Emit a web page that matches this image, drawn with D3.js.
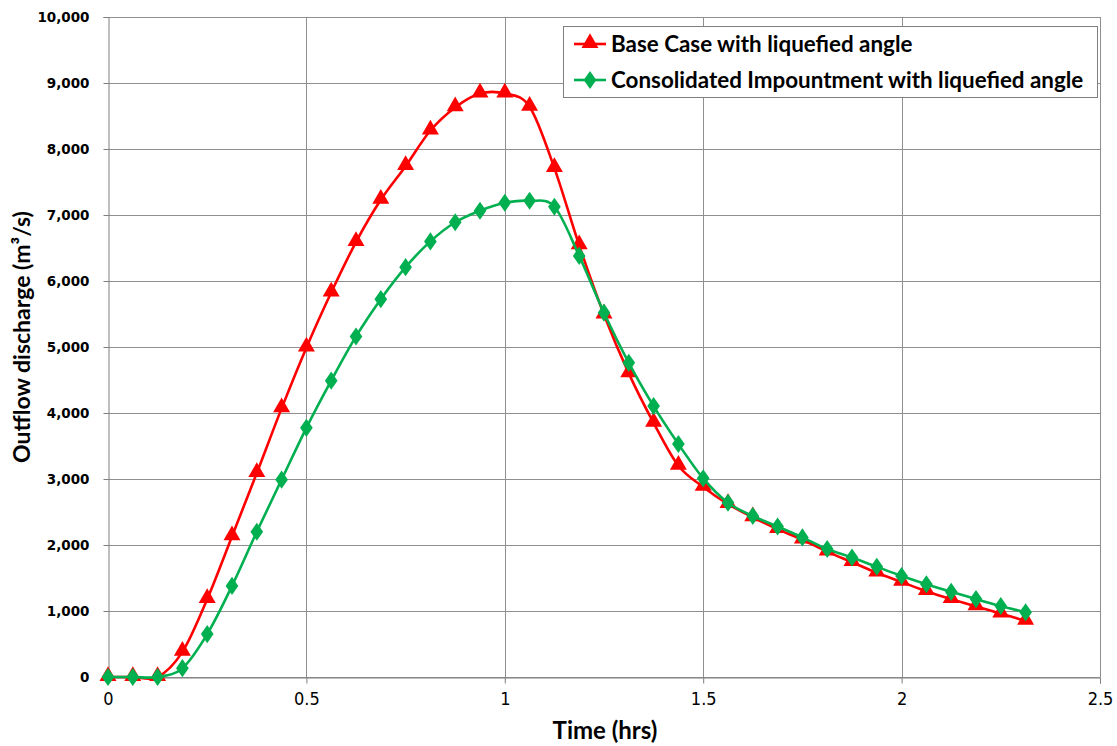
<!DOCTYPE html>
<html>
<head>
<meta charset="utf-8">
<script src="https://cdn.jsdelivr.net/npm/d3@7"></script>
<style>
body { margin: 0; background: #fff; }
</style>
</head>
<body>
<div id="chart"></div>
<script>
// time in hours
var times = [0, 0.0625, 0.125, 0.1875, 0.25, 0.3125, 0.375, 0.4375, 0.5, 0.5625,
    0.625, 0.6875, 0.75, 0.8125, 0.875, 0.9375, 1, 1.0625, 1.125, 1.1875,
    1.25, 1.3125, 1.375, 1.4375, 1.5, 1.5625, 1.625, 1.6875, 1.75, 1.8125,
    1.875, 1.9375, 2, 2.0625, 2.125, 2.1875, 2.25, 2.3125];

var baseCase = [0, 0, 0, 380, 1180, 2130, 3090, 4070, 4990, 5825,
    6590, 7230, 7740, 8280, 8630, 8840, 8840, 8640, 7710, 6540,
    5490, 4600, 3850, 3200, 2880, 2620, 2420, 2240, 2080, 1900,
    1740, 1580, 1440, 1300, 1180, 1070, 960, 850];

var consolidated = [0, 0, 0, 134, 650, 1380, 2200, 2990, 3775, 4490,
    5160, 5725, 6210, 6600, 6890, 7065, 7185, 7215, 7125, 6380,
    5520, 4760, 4105, 3530, 3010, 2640, 2440, 2280, 2115, 1940,
    1810, 1670, 1530, 1405, 1290, 1180, 1075, 980];

var seriesNames = ["Base Case with liquefied angle", "Consolidated Impountment with liquefied angle"];
var xTicks = [0, 0.5, 1, 1.5, 2, 2.5];
var yTicks = [0, 1000, 2000, 3000, 4000, 5000, 6000, 7000, 8000, 9000, 10000];

var width = 1117;
var height = 746;
var plotLeft = 108, plotRight = 1100, plotTop = 17, plotBottom = 677;

var svg = d3.select("#chart")
    .append("svg")
    .attr("width", width)
    .attr("height", height);

var x = d3.scaleLinear().domain([0, 2.5]).range([plotLeft, plotRight]);
var y = d3.scaleLinear().domain([0, 10000]).range([plotBottom, plotTop]);

// grid
var grid = svg.append("g");
grid.selectAll("line.h")
    .data(yTicks)
    .enter().append("line")
    .attr("class", "h")
    .attr("x1", plotLeft).attr("x2", plotRight)
    .attr("y1", d => Math.round(y(d)) + 0.5).attr("y2", d => Math.round(y(d)) + 0.5)
    .attr("stroke", "#8f8f8f").attr("stroke-width", 1);

grid.selectAll("line.v")
    .data(xTicks.slice(1))
    .enter().append("line")
    .attr("class", "v")
    .attr("y1", plotTop).attr("y2", plotBottom)
    .attr("x1", d => Math.round(x(d)) + 0.5).attr("x2", d => Math.round(x(d)) + 0.5)
    .attr("stroke", "#8f8f8f").attr("stroke-width", 1);

// axes
var yAxis = svg.append("g")
    .attr("transform", "translate(" + (plotLeft + 0.5) + ",0)")
    .call(d3.axisLeft(y).tickValues(yTicks).tickFormat(d3.format(",")).tickSize(5).tickPadding(14));

var xAxis = svg.append("g")
    .attr("transform", "translate(0," + (plotBottom + 0.5) + ")")
    .call(d3.axisBottom(x).tickValues(xTicks).tickFormat(d => d).tickSize(6).tickPadding(9));

yAxis.selectAll("path, line").attr("stroke", "#7f7f7f");
xAxis.selectAll("path, line").attr("stroke", "#7f7f7f");

yAxis.selectAll("text")
    .style("font-family", "'DejaVu Sans', Verdana, sans-serif")
    .style("font-weight", "bold")
    .style("font-size", "13.5px")
    .attr("fill", "#000");

xAxis.selectAll("text")
    .style("font-family", "'Liberation Sans Narrow', 'DejaVu Sans Condensed', sans-serif")
    .style("font-size", "18px")
    .attr("fill", "#000");

// titles
svg.append("text")
    .attr("x", 605).attr("y", 739)
    .attr("text-anchor", "middle")
    .style("font-family", "Lato, sans-serif")
    .style("font-weight", "bold")
    .style("font-size", "24px")
    .text("Time (hrs)");

svg.append("text")
    .attr("transform", "translate(30,337) rotate(-90)")
    .attr("text-anchor", "middle")
    .style("font-family", "Lato, sans-serif")
    .style("font-weight", "bold")
    .style("font-size", "23px")
    .text("Outflow discharge (m³/s)");

// series
var line = d3.line()
    .x(d => x(d[0]))
    .y(d => y(d[1]))
    .curve(d3.curveCardinal.tension(0));

var redData = times.map((t, i) => [t, baseCase[i]]);
var greenData = times.map((t, i) => [t, consolidated[i]]);

var tri = d3.symbol().type(d3.symbolTriangle).size(125);
var dia = d3.symbol().type(d3.symbolDiamond).size(105);

svg.append("path")
    .datum(redData)
    .attr("d", line)
    .attr("fill", "none")
    .attr("stroke", "#ff0000")
    .attr("stroke-width", 2.6);

svg.append("g").selectAll("path")
    .data(redData)
    .enter().append("path")
    .attr("d", tri)
    .attr("transform", d => "translate(" + x(d[0]) + "," + (y(d[1]) - 1) + ")")
    .attr("fill", "#ff0000");

svg.append("path")
    .datum(greenData)
    .attr("d", line)
    .attr("fill", "none")
    .attr("stroke", "#00b050")
    .attr("stroke-width", 2.6);

svg.append("g").selectAll("path")
    .data(greenData)
    .enter().append("path")
    .attr("d", dia)
    .attr("transform", d => "translate(" + x(d[0]) + "," + y(d[1]) + ") scale(1.15,0.95)")
    .attr("fill", "#00b050");

// legend
var legend = svg.append("g");
legend.append("rect")
    .attr("x", 563.5).attr("y", 26.5)
    .attr("width", 534).attr("height", 71)
    .attr("fill", "#fff")
    .attr("stroke", "#7f7f7f");

var legendColors = ["#ff0000", "#00b050"];
var legendShapes = [tri, dia];

seriesNames.forEach((name, i) => {
    var ly = 44 + i * 36;
    legend.append("line")
        .attr("x1", 574).attr("x2", 606)
        .attr("y1", ly).attr("y2", ly)
        .attr("stroke", legendColors[i])
        .attr("stroke-width", 2.6);
    legend.append("path")
        .attr("d", legendShapes[i])
        .attr("transform", "translate(590," + (i == 0 ? ly - 1 : ly) + ")" + (i == 1 ? " scale(1.15,0.95)" : ""))
        .attr("fill", legendColors[i]);
    legend.append("text")
        .attr("x", 611).attr("y", ly + 8)
        .style("font-family", "Lato, sans-serif")
        .style("font-weight", "bold")
        .style("font-size", "22.4px")
        .text(name);
});
</script>
</body>
</html>
